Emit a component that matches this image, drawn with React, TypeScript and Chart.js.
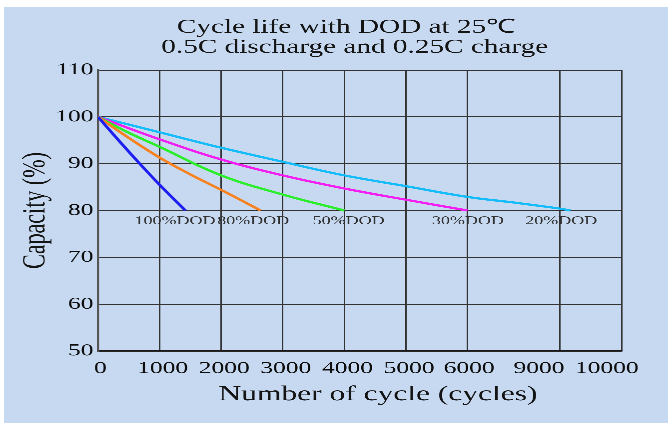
import React, { useEffect, useRef } from 'react';
import { Chart, registerables, LinearScale } from 'chart.js';

Chart.register(...registerables);

// ---- texts ----
const TITLE_LINES = ['Cycle life with DOD at 25℃', '0.5C discharge and 0.25C charge'];
const X_TITLE = 'Number of cycle (cycles)';
const Y_TITLE = 'Capacity (%)';

// ---- axes ----
const X_TICKS = [0, 1000, 2000, 3000, 4000, 5000, 6000, 9000, 10000];
const Y_TICKS = [50, 60, 70, 80, 90, 100, 110];
// the printed x axis is broken: these cycle values sit on these grid steps
const X_BREAK_VALUES = [0, 6000, 9000, 10000];
const X_BREAK_STEPS = [0, 6, 7.5, 8.5];
// where the printed x tick labels are centred (in cycles, on the axis above)
const X_TICK_LABEL_AT = [40, 1050, 2050, 3050, 4050, 5050, 6050, 8320, 9760];

// ---- series ----
const DOD_LABELS = ['100%DOD', '80%DOD', '50%DOD', '30%DOD', '20%DOD'];
const DOD_COLORS = ['#1f1ff2', '#f7821f', '#2aee2a', '#f21ef2', '#14bcfa'];

const DOD100_CYCLES = [0, 300, 650, 1000, 1420];
const DOD100_CAP = [100, 95.5, 90.4, 85.5, 80];

const DOD80_CYCLES = [0, 500, 1000, 1500, 2000, 2640];
const DOD80_CAP = [100, 95.5, 91.3, 87.7, 84.4, 80];

const DOD50_CYCLES = [0, 500, 1000, 2000, 3000, 4000];
const DOD50_CAP = [100, 96.6, 93.6, 87.5, 83.4, 80];

const DOD30_CYCLES = [0, 1000, 2000, 3000, 4000, 5000, 6000];
const DOD30_CAP = [100, 95.2, 90.9, 87.5, 84.7, 82.3, 80];

const DOD20_CYCLES = [0, 1000, 2000, 3000, 4000, 5000, 6000, 7500, 9000, 9170];
const DOD20_CAP = [100, 96.7, 93.4, 90.4, 87.5, 85.2, 82.9, 81.7, 80.4, 80];

const SERIES_CYCLES = [DOD100_CYCLES, DOD80_CYCLES, DOD50_CYCLES, DOD30_CYCLES, DOD20_CYCLES];
const SERIES_CAP = [DOD100_CAP, DOD80_CAP, DOD50_CAP, DOD30_CAP, DOD20_CAP];
const DOD_LABEL_AT = [1250, 2520, 4070, 6010, 9020];
const END_CAPACITY = 80;

const SERIF = 'Liberation Serif';
const TICK_FONT_SIZE = 17;

function cyclesToStep(v: number): number {
  const b = X_BREAK_VALUES, s = X_BREAK_STEPS;
  for (let i = 1; i < b.length; i++) {
    if (v <= b[i] || i === b.length - 1) {
      return s[i - 1] + ((v - b[i - 1]) / (b[i] - b[i - 1])) * (s[i] - s[i - 1]);
    }
  }
  return s[s.length - 1];
}
function stepToCycles(t: number): number {
  const b = X_BREAK_VALUES, s = X_BREAK_STEPS;
  for (let i = 1; i < s.length; i++) {
    if (t <= s[i] || i === s.length - 1) {
      return b[i - 1] + ((t - s[i - 1]) / (s[i] - s[i - 1])) * (b[i] - b[i - 1]);
    }
  }
  return b[b.length - 1];
}

class BrokenAxis extends LinearScale {
  static id = 'brokenAxis';
  static defaults = LinearScale.defaults;
  getPixelForValue(value: any) {
    if (value === null || value === undefined || isNaN(value)) return NaN;
    const s0 = X_BREAK_STEPS[0];
    const total = X_BREAK_STEPS[X_BREAK_STEPS.length - 1] - s0;
    return this.getPixelForDecimal((cyclesToStep(value) - s0) / total);
  }
  getValueForPixel(pixel: number) {
    const s0 = X_BREAK_STEPS[0];
    const total = X_BREAK_STEPS[X_BREAK_STEPS.length - 1] - s0;
    return stepToCycles(s0 + this.getDecimalForPixel(pixel) * total);
  }
}
Chart.register(BrokenAxis as any);

const textPlugin = {
  id: 'texts',
  afterDraw(chart: any) {
    const ctx = chart.ctx;
    const xs = chart.scales.x;
    const ys = chart.scales.y;
    ctx.save();
    ctx.textAlign = 'center';
    // x tick labels
    ctx.textBaseline = 'middle';
    ctx.fillStyle = '#0d0d0d';
    ctx.font = `${TICK_FONT_SIZE}px "${SERIF}"`;
    X_TICKS.forEach((v, i) => {
      ctx.fillText(String(v), xs.getPixelForValue(X_TICK_LABEL_AT[i]), xs.top + 17.5);
    });
    ctx.textBaseline = 'alphabetic';
    ctx.fillStyle = '#141414';
    ctx.font = `19.5px "${SERIF}"`;
    ctx.fillText(TITLE_LINES[0], 228, 25.7);
    ctx.fillText(TITLE_LINES[1], 234, 45.7);
    ctx.font = `21px "${SERIF}"`;
    ctx.fillText(X_TITLE, 249.5, 393.3);
    ctx.font = `12px "${SERIF}"`;
    ctx.fillStyle = '#303030';
    DOD_LABELS.forEach((t, i) => {
      ctx.fillText(t, xs.getPixelForValue(DOD_LABEL_AT[i]), ys.getPixelForValue(END_CAPACITY) + 13.7);
    });
    ctx.restore();
  },
};

const GRID = '#333333';

export default function App() {
  const ref = useRef<HTMLCanvasElement>(null);
  useEffect(() => {
    const datasets = DOD_LABELS.map((label, i) => ({
      label,
      data: SERIES_CYCLES[i].map((c, j) => ({ x: c, y: SERIES_CAP[i][j] })),
      borderColor: DOD_COLORS[i],
      backgroundColor: DOD_COLORS[i],
      borderWidth: 2.2,
      pointRadius: 0,
      tension: 0.4,
      fill: false,
    }));
    const chart = new Chart(ref.current!, {
      type: 'line',
      data: { datasets },
      options: {
        animation: false,
        responsive: false,
        devicePixelRatio: 3,
        layout: { padding: { top: 63, right: 31, left: 0, bottom: 0 } },
        plugins: { legend: { display: false }, tooltip: { enabled: false }, title: { display: false } },
        scales: {
          x: {
            type: 'brokenAxis' as any,
            min: 0,
            max: 10000,
            afterBuildTicks: (s: any) => { s.ticks = X_TICKS.map((v) => ({ value: v })); },
            afterFit: (s: any) => { s.height = 72; },
            grid: { color: GRID, lineWidth: 1, drawTicks: false },
            border: { color: '#1a1a1a', width: 1.2 },
            ticks: { display: false, autoSkip: false, maxRotation: 0 },
          },
          y: {
            type: 'linear',
            min: 50,
            max: 110,
            afterBuildTicks: (s: any) => { s.ticks = Y_TICKS.map((v) => ({ value: v })); },
            afterFit: (s: any) => { s.width = 62.7; },
            grid: { color: GRID, lineWidth: 1, drawTicks: false },
            border: { color: '#555', width: 1.4 },
            ticks: {
              padding: 3, color: '#0d0d0d',
              font: { family: SERIF, size: TICK_FONT_SIZE },
              callback: (v: any) => String(v),
            },
            title: {
              display: true, text: Y_TITLE, color: '#141414',
              font: { family: SERIF, size: 22 },
              padding: { top: 8.1, bottom: 0 },
            },
          },
        },
      },
      plugins: [textPlugin],
    } as any);
    return () => chart.destroy();
  }, []);

  return (
    <div style={{ position: 'absolute', left: 0, top: 0, width: 668, height: 423, background: '#ffffff', overflow: 'hidden' }}>
      <div style={{ position: 'absolute', left: 4, top: 7, width: 664, height: 416, background: '#c6d9f0' }}>
        <canvas
          ref={ref}
          width={443}
          height={416}
          style={{ display: 'block', width: 443, height: 416, transformOrigin: '0 0', transform: `scaleX(${664 / 443})` }}
        />
      </div>
    </div>
  );
}
